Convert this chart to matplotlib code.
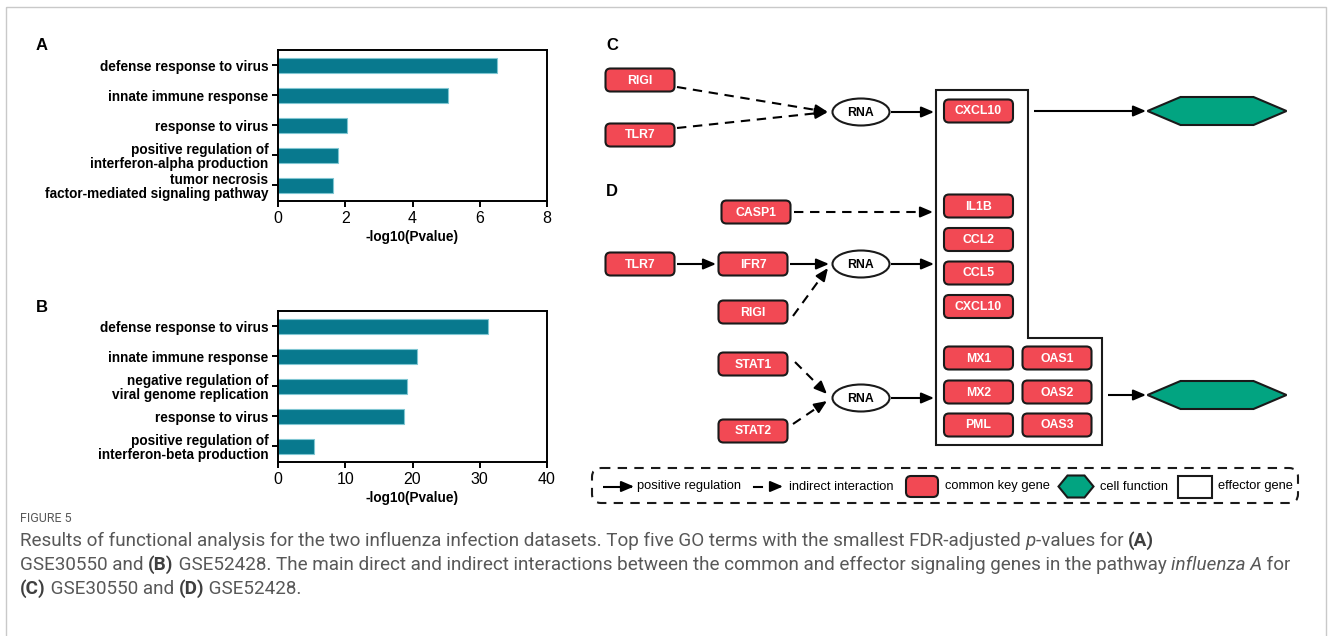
import matplotlib
matplotlib.use("Agg")
import matplotlib.pyplot as plt
from matplotlib.patches import FancyBboxPatch, Ellipse, Polygon, Rectangle, FancyArrowPatch

W, H = 1332, 636
DPI = 100

# ---- GO enrichment results -------------------------------------------------
terms_a = ["defense response to virus",
           "innate immune response",
           "response to virus",
           "positive regulation of\ninterferon-alpha production",
           "tumor necrosis\nfactor-mediated signaling pathway"]
values_a = [6.5, 5.05, 2.05, 1.78, 1.65]
ticks_a = [0, 2, 4, 6, 8]

terms_b = ["defense response to virus",
           "innate immune response",
           "negative regulation of\nviral genome replication",
           "response to virus",
           "positive regulation of\ninterferon-beta production"]
values_b = [31.2, 20.7, 19.2, 18.7, 5.3]
ticks_b = [0, 10, 20, 30, 40]

xlabel_text = "-log10(Pvalue)"

# ---- pathway genes -----------------------------------------------------------
c_upstream = ["RIGI", "TLR7"]
c_effector = ["CXCL10"]
d_casp = "CASP1"
d_chain = ["TLR7", "IFR7", "RIGI"]
d_stat = ["STAT1", "STAT2"]
d_effector_top = ["IL1B", "CCL2", "CCL5", "CXCL10"]
d_effector_left = ["MX1", "MX2", "PML"]
d_effector_right = ["OAS1", "OAS2", "OAS3"]

legend_items = ["positive regulation", "indirect interaction", "common key gene",
                "cell function", "effector gene"]

caption_title = "FIGURE 5"
caption_lines = [
    [("Results of functional analysis for the two influenza infection datasets. Top five GO terms with the smallest FDR-adjusted ", "normal", "normal"),
     ("p", "normal", "italic"), ("-values for ", "normal", "normal"), ("(A)", "bold", "normal")],
    [("GSE30550 and ", "normal", "normal"), ("(B)", "bold", "normal"),
     (" GSE52428. The main direct and indirect interactions between the common and effector signaling genes in the pathway ", "normal", "normal"),
     ("influenza A", "normal", "italic"), (" for", "normal", "normal")],
    [("(C)", "bold", "normal"), (" GSE30550 and ", "normal", "normal"), ("(D)", "bold", "normal"),
     (" GSE52428.", "normal", "normal")],
]

BAR_COLOR = "#08798E"
BAR_EDGE = "#7FC6D2"
GENE_FILL = "#F24954"
HEX_FILL = "#02A481"
EDGE = "#1A1A1A"
SANS = ["Liberation Sans", "DejaVu Sans"]
CAP_FONT = ["Roboto", "DejaVu Sans"]
CAP_COLOR = "#585858"

fig = plt.figure(figsize=(W / DPI, H / DPI), dpi=DPI)
fig.patch.set_facecolor("white")

# full-figure canvas in pixel units for the diagram, labels and caption
ax = fig.add_axes([0, 0, 1, 1])
ax.set_xlim(0, W)
ax.set_ylim(H, 0)
ax.axis("off")

# outer frame
ax.add_patch(Rectangle((6, 7), 1320, 640, fill=False, ec="#C9C9C9", lw=1.0))


def px_axes(left, top, right, bottom):
    return fig.add_axes([left / W, 1 - bottom / H, (right - left) / W, (bottom - top) / H])


def bar_panel(rect, terms, values, ticks):
    bx = px_axes(*rect)
    ypos = list(range(len(terms)))
    bx.barh(ypos, values, height=0.5, color=BAR_COLOR, edgecolor=BAR_EDGE, linewidth=0.8)
    bx.set_ylim(4.53, -0.5)
    bx.set_xlim(ticks[0], ticks[-1])
    bx.set_xticks(ticks)
    bx.set_xticklabels([str(t) for t in ticks], fontsize=11.5, family=SANS)
    bx.set_yticks(ypos)
    bx.set_yticklabels(terms, fontsize=9.8, fontweight="bold", family=SANS, linespacing=1.0)
    bx.tick_params(axis="both", direction="out", length=4.5, width=1.4, color="black", pad=2.5)
    for s in bx.spines.values():
        s.set_linewidth(1.4)
        s.set_color("black")
    bx.set_xlabel(xlabel_text, fontsize=9.8, fontweight="bold", family=SANS, labelpad=3)
    return bx


bar_panel((278, 50, 547, 201), terms_a, values_a, ticks_a)
bar_panel((278, 311, 547, 462), terms_b, values_b, ticks_b)

# panel letters
for letter, (lx, ly) in {"A": (42, 46), "B": (42, 308), "C": (612, 46), "D": (612, 192)}.items():
    ax.text(lx, ly, letter, fontsize=12, fontweight="bold", family=SANS, ha="center", va="center")

# ---- diagram primitives -------------------------------------------------------
GW, GH = 69, 23


def gene(x, y, name, w=GW, h=GH):
    ax.add_patch(FancyBboxPatch((x - w / 2, y - h / 2), w, h,
                                boxstyle="round,pad=0,rounding_size=5",
                                fc=GENE_FILL, ec=EDGE, lw=1.5, zorder=3))
    if name:
        ax.text(x, y + 0.5, name, color="white", fontsize=8.8, fontweight="bold",
                family=SANS, ha="center", va="center", zorder=4)


def rna(x, y):
    ax.add_patch(Ellipse((x, y), 57, 27, fc="white", ec=EDGE, lw=1.5, zorder=3))
    ax.text(x, y + 0.5, "RNA", fontsize=8.8, fontweight="bold", family=SANS,
            ha="center", va="center", zorder=4)


def hexagon(cx, cy, w=139, h=28, inset=33):
    pts = [(cx - w / 2, cy), (cx - w / 2 + inset, cy - h / 2), (cx + w / 2 - inset, cy - h / 2),
           (cx + w / 2, cy), (cx + w / 2 - inset, cy + h / 2), (cx - w / 2 + inset, cy + h / 2)]
    ax.add_patch(Polygon(pts, closed=True, fc=HEX_FILL, ec=EDGE, lw=1.5, zorder=3))


def head(x0, y0, x1, y1, frac_len=9.0):
    dx, dy = x1 - x0, y1 - y0
    d = (dx * dx + dy * dy) ** 0.5
    sx, sy = x1 - dx / d * frac_len, y1 - dy / d * frac_len
    ax.add_patch(FancyArrowPatch((sx, sy), (x1, y1),
                                 arrowstyle="-|>,head_length=0.75,head_width=0.32",
                                 mutation_scale=10, color="black", lw=1.5,
                                 shrinkA=0, shrinkB=0, zorder=5))


def arrow(x0, y0, x1, y1):
    ax.plot([x0, x1 - (x1 - x0) * 0.05], [y0, y1 - (y1 - y0) * 0.05], color="black", lw=1.5,
            solid_capstyle="butt", zorder=4)
    head(x0, y0, x1, y1)


def dashed(x0, y0, x1, y1):
    dx, dy = x1 - x0, y1 - y0
    d = (dx * dx + dy * dy) ** 0.5
    ex, ey = x1 - dx / d * 8, y1 - dy / d * 8
    ax.plot([x0, ex], [y0, ey], color="black", lw=1.5, linestyle=(0, (4.5, 3.2)),
            dash_capstyle="butt", zorder=4)
    head(x0, y0, x1, y1)


# effector-gene container (L shape)
ax.add_patch(Polygon([(936, 90), (1028, 90), (1028, 338), (1102, 338), (1102, 445), (936, 445)],
                     closed=True, fc="white", ec=EDGE, lw=1.5, zorder=2))

# ---- panel C ---------------------------------------------------------------
gene(640, 80, c_upstream[0])
gene(640, 135, c_upstream[1])
rna(861, 112)
dashed(677, 87, 828, 112)
dashed(677, 128, 828, 112)
arrow(891, 112, 934, 112)
gene(978.5, 111, c_effector[0])
arrow(1034, 111, 1146, 111)
hexagon(1217, 111)

# ---- panel D ---------------------------------------------------------------
gene(756, 212, d_casp)
dashed(794, 212, 933, 212)
gene(640, 264, d_chain[0])
gene(753, 264, d_chain[1])
gene(753, 312, d_chain[2])
arrow(677, 264, 716, 264)
rna(861, 264)
arrow(790, 264, 829, 264)
dashed(793, 316, 828, 268)
arrow(891, 264, 934, 264)

for name, yy in zip(d_effector_top, [206, 239.5, 273, 306.5]):
    gene(978.5, yy, name)

gene(753, 364, d_stat[0])
gene(753, 431, d_stat[1])
rna(861, 398)
dashed(795, 362, 827, 394)
dashed(793, 424, 827, 401)
arrow(891, 398, 934, 398)

for name, yy in zip(d_effector_left, [358, 392, 425]):
    gene(978.5, yy, name)
for name, yy in zip(d_effector_right, [358, 392, 425]):
    gene(1057, yy, name)

arrow(1108, 395, 1146, 395)
hexagon(1217, 395)

# ---- legend ------------------------------------------------------------------
ax.add_patch(FancyBboxPatch((592, 468), 706, 35, boxstyle="round,pad=0,rounding_size=9",
                            fill=False, ec=EDGE, lw=1.5, linestyle=(0, (4.5, 3.5)), zorder=3))
LY = 486.5
LFS = 9.3
arrow(603, LY, 634, LY)
ax.text(637, LY, legend_items[0], fontsize=LFS, family=SANS, va="center", ha="left")
ax.plot([754, 762], [LY, LY], color="black", lw=1.5, zorder=4)
head(772, LY, 783, LY)
ax.text(789, LY, legend_items[1], fontsize=LFS, family=SANS, va="center", ha="left")
gene(922, LY, "", w=32, h=21)
ax.text(945, LY, legend_items[2], fontsize=LFS, family=SANS, va="center", ha="left")
hexagon(1076, LY, w=35, h=22, inset=9)
ax.text(1100, LY, legend_items[3], fontsize=LFS, family=SANS, va="center", ha="left")
ax.add_patch(Rectangle((1178, 475.5), 34, 22, fc="white", ec=EDGE, lw=1.5, zorder=3))
ax.text(1218, LY, legend_items[4], fontsize=LFS, family=SANS, va="center", ha="left")

# ---- caption -------------------------------------------------------------------
renderer = fig.canvas.get_renderer()


def text_width(s, size, weight, style):
    t = ax.text(0, 0, s + "|", fontsize=size, fontweight=weight, fontstyle=style, family=CAP_FONT)
    bar = ax.text(0, 0, "|", fontsize=size, fontweight=weight, fontstyle=style, family=CAP_FONT)
    w = t.get_window_extent(renderer).width - bar.get_window_extent(renderer).width
    t.remove()
    bar.remove()
    return w


def line_width(parts, size):
    return sum(text_width(s, size, wt, st) for s, wt, st in parts)


base = 10.0
target = 1300 - 20
cap_size = base * target / line_width(caption_lines[1], base)

ax.text(20, 519, caption_title, fontsize=9, family=CAP_FONT, color=CAP_COLOR, va="center", ha="left")
for parts, yy in zip(caption_lines, [541, 565, 589]):
    x = 20
    for s, wt, st in parts:
        ax.text(x, yy, s, fontsize=cap_size, fontweight=wt, fontstyle=st, family=CAP_FONT,
                color="#3F3F3F" if wt == "bold" else CAP_COLOR, va="center", ha="left")
        x += text_width(s, cap_size, wt, st)

fig.savefig("out.png", dpi=DPI, facecolor="white")
